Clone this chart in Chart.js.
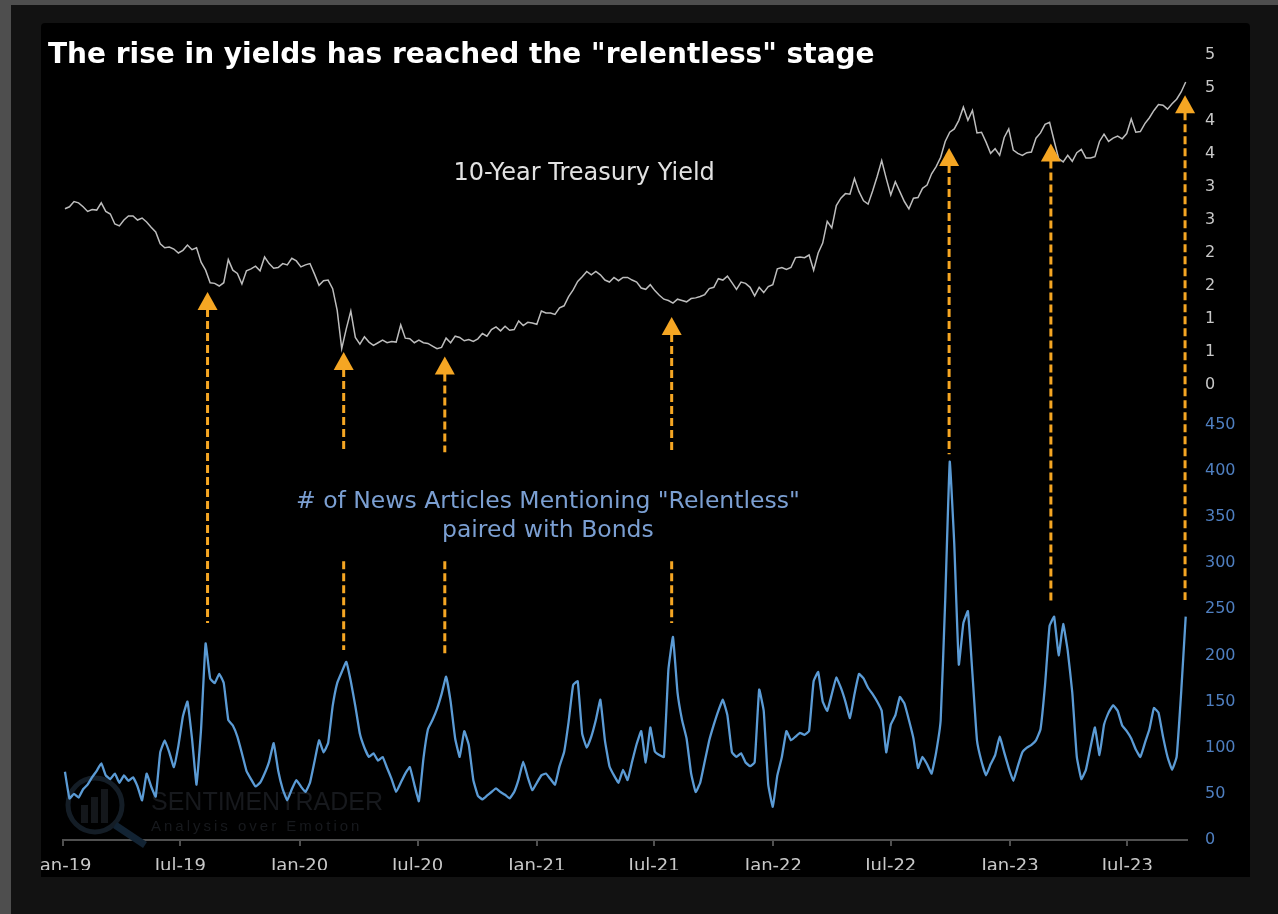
<!DOCTYPE html>
<html>
<head>
<meta charset="utf-8">
<script src="https://cdn.jsdelivr.net/npm/chart.js@4.4.0/dist/chart.umd.min.js"></script>
<style>
  html, body { margin: 0; padding: 0; }
  body { width: 1278px; height: 914px; background: #121212; position: relative; overflow: hidden; }
  #edgeTop { position: absolute; left: 0; top: 0; width: 1278px; height: 5px; background: #4e4e4e; }
  #edgeLeft { position: absolute; left: 0; top: 0; width: 11px; height: 914px; background: #4e4e4e; }
  #panel { position: absolute; left: 41px; top: 23px; width: 1209px; height: 854px; background: #000; overflow: hidden; border-radius: 4px 4px 0 0; }
  #wrap { position: absolute; left: -18px; top: 0; width: 1227px; height: 854px; }
</style>
</head>
<body>
<div id="edgeTop"></div>
<div id="edgeLeft"></div>
<div id="panel"><div id="wrap"><canvas id="grafico"></canvas></div></div>
<script>
// weekly samples (Fridays), first one on 2019-01-04
const FIRST_WEEK = "2019-01-04";

const yield2019 = [2.67, 2.70, 2.78, 2.76, 2.70, 2.63, 2.66, 2.65, 2.76, 2.63, 2.59, 2.44, 2.41,
  2.50, 2.56, 2.56, 2.50, 2.53, 2.47, 2.39, 2.32, 2.14, 2.08, 2.09, 2.06, 2.00, 2.04, 2.12, 2.05,
  2.08, 1.86, 1.74, 1.55, 1.54, 1.50, 1.55, 1.90, 1.74, 1.69, 1.53, 1.73, 1.76, 1.80, 1.73, 1.94,
  1.84, 1.77, 1.78, 1.84, 1.82, 1.92, 1.88];
const yield2020 = [1.79, 1.82, 1.84, 1.68, 1.51, 1.58, 1.59, 1.46, 1.13, 0.55, 0.85, 1.12, 0.72,
  0.62, 0.73, 0.65, 0.60, 0.64, 0.68, 0.64, 0.66, 0.65, 0.91, 0.71, 0.70, 0.64, 0.68, 0.64, 0.63,
  0.59, 0.55, 0.57, 0.71, 0.64, 0.74, 0.72, 0.67, 0.69, 0.66, 0.70, 0.78, 0.74, 0.84, 0.88, 0.82,
  0.89, 0.83, 0.84, 0.97, 0.90, 0.95, 0.94];
const yield2021 = [0.92, 1.12, 1.09, 1.09, 1.07, 1.17, 1.20, 1.34, 1.44, 1.57, 1.64, 1.72, 1.67,
  1.72, 1.67, 1.59, 1.56, 1.63, 1.58, 1.63, 1.63, 1.59, 1.56, 1.47, 1.45, 1.52, 1.43, 1.36, 1.30,
  1.28, 1.24, 1.30, 1.28, 1.26, 1.31, 1.32, 1.34, 1.37, 1.46, 1.48, 1.61, 1.59, 1.65, 1.55, 1.45,
  1.56, 1.54, 1.48, 1.35, 1.48, 1.40, 1.49, 1.52];
const yield2022 = [1.76, 1.78, 1.75, 1.78, 1.93, 1.94, 1.93, 1.97, 1.74, 2.00, 2.15, 2.48, 2.38,
  2.72, 2.83, 2.90, 2.89, 3.13, 2.93, 2.79, 2.74, 2.94, 3.16, 3.40, 3.13, 2.88, 3.08, 2.93, 2.78,
  2.67, 2.83, 2.84, 2.98, 3.03, 3.20, 3.31, 3.45, 3.69, 3.83, 3.88, 4.01, 4.21, 4.01, 4.16, 3.82,
  3.83, 3.68, 3.51, 3.58, 3.48, 3.75, 3.88];
const yield2023 = [3.56, 3.51, 3.48, 3.52, 3.53, 3.74, 3.82, 3.95, 3.98, 3.70, 3.43, 3.38, 3.48,
  3.39, 3.52, 3.57, 3.44, 3.44, 3.46, 3.69, 3.80, 3.69, 3.74, 3.77, 3.73, 3.81, 4.03, 3.83, 3.84,
  3.96, 4.05, 4.16, 4.25, 4.24, 4.18, 4.26, 4.33, 4.44, 4.59];

const news2019 = [74, 45, 50, 46, 55, 60, 68, 75, 83, 70, 66, 72, 62, 70, 64, 68, 58, 43, 72, 58,
  47, 95, 108, 95, 79, 102, 134, 150, 110, 60, 120, 213, 175, 170, 180, 170, 130, 124, 112, 94,
  75, 66, 58, 62, 72, 85, 105, 75, 55, 43, 55, 65];
const news2020 = [58, 52, 62, 85, 108, 95, 105, 145, 170, 182, 193, 172, 145, 115, 100, 90, 94,
  86, 90, 78, 66, 52, 62, 72, 79, 60, 42, 88, 120, 130, 142, 158, 177, 150, 110, 90, 118, 103,
  65, 48, 44, 48, 52, 56, 52, 49, 45, 52, 66, 85, 68, 54];
const news2021 = [62, 70, 72, 66, 60, 80, 95, 128, 168, 172, 115, 100, 112, 130, 152, 108, 80,
  70, 62, 76, 65, 85, 104, 118, 84, 122, 96, 92, 90, 185, 220, 160, 130, 110, 72, 52, 62, 85,
  108, 125, 140, 152, 135, 95, 90, 94, 84, 80, 84, 163, 140, 60, 36];
const news2022 = [70, 90, 118, 108, 112, 116, 114, 118, 172, 182, 150, 140, 158, 176, 165, 150,
  132, 158, 180, 175, 165, 158, 150, 140, 95, 125, 135, 155, 148, 130, 110, 78, 90, 82, 72, 95,
  130, 260, 410, 320, 190, 235, 248, 180, 108, 85, 70, 82, 92, 112, 95, 78];
const news2023 = [64, 80, 95, 100, 103, 108, 120, 168, 232, 242, 200, 234, 205, 160, 90, 66, 76,
  100, 122, 92, 125, 138, 146, 140, 124, 118, 110, 98, 90, 105, 120, 143, 138, 112, 90, 76, 90,
  160, 242];

const tickDates = ["2019-01-01", "2019-07-01", "2020-01-01", "2020-07-01", "2021-01-01",
  "2021-07-01", "2022-01-01", "2022-07-01", "2023-01-01", "2023-07-01"];
const tickLabels = ["Jan-19", "Jul-19", "Jan-20", "Jul-20", "Jan-21", "Jul-21", "Jan-22",
  "Jul-22", "Jan-23", "Jul-23"];
const yieldTicks = [0, 0.5, 1, 1.5, 2, 2.5, 3, 3.5, 4, 4.5, 5];
const newsTicks = [0, 50, 100, 150, 200, 250, 300, 350, 400, 450];

// orange arrows: date, yield at the tip, article count at the foot, broken by the label?
const arrowDates = ["2019-08-12", "2020-03-09", "2020-08-12", "2021-07-28", "2022-09-29",
  "2023-03-05", "2023-09-28"];
const arrowTips = [1.41, 0.50, 0.43, 1.03, 3.59, 3.66, 4.39];
const arrowEnds = [235, 206, 199, 235, 418, 257, 260];
const arrowBroken = [false, true, true, true, false, false, false];

const DAY = 86400000;
const ORIGIN = Date.UTC(2019, 0, 1);
function dayOf(s) {
  const [y, m, d] = s.split("-").map(Number);
  return (Date.UTC(y, m - 1, d) - ORIGIN) / DAY;
}

const yields = [...yield2019, ...yield2020, ...yield2021, ...yield2022, ...yield2023];
const news = [...news2019, ...news2020, ...news2021, ...news2022, ...news2023];
const start = dayOf(FIRST_WEEK);
const yieldPts = yields.map((v, i) => ({ x: start + i * 7, y: v }));
const newsPts = news.map((v, i) => ({ x: start + i * 7, y: v }));

const ORANGE = "#f5a623";
const FONT = "'DejaVu Sans', sans-serif";

const capas = {
  id: "capas",
  beforeDatasetsDraw(chart) {
    const ctx = chart.ctx;
    ctx.save();
    // watermark
    ctx.strokeStyle = "#141d26";
    ctx.lineWidth = 5;
    ctx.beginPath();
    ctx.arc(72, 782, 27, 0, Math.PI * 2);
    ctx.stroke();
    ctx.strokeStyle = "#122333";
    ctx.lineWidth = 7;
    ctx.beginPath();
    ctx.moveTo(92, 802);
    ctx.lineTo(122, 822);
    ctx.stroke();
    ctx.fillStyle = "#14171b";
    ctx.fillRect(58, 782, 7, 18);
    ctx.fillRect(68, 774, 7, 26);
    ctx.fillRect(78, 766, 7, 34);
    ctx.fillStyle = "#17191d";
    ctx.font = "25px 'Liberation Sans', sans-serif";
    ctx.textBaseline = "alphabetic";
    ctx.fillText("SENTIMENTRADER", 128, 787);
    ctx.font = "15px 'Liberation Sans', sans-serif";
    ctx.letterSpacing = "3px";
    ctx.fillText("Analysis over Emotion", 128, 808);
    ctx.restore();
  },
  afterDatasetsDraw(chart) {
    const ctx = chart.ctx;
    const xs = chart.scales.x, ys = chart.scales.y, ns = chart.scales.y2;
    ctx.save();
    arrowDates.forEach((d, i) => {
      const px = xs.getPixelForValue(dayOf(d));
      const tip = ys.getPixelForValue(arrowTips[i]);
      const foot = ns.getPixelForValue(arrowEnds[i]);
      const segs = arrowBroken[i]
        ? [[tip + 17, ns.getPixelForValue(420)], [ns.getPixelForValue(302), foot]]
        : [[tip + 17, foot]];
      ctx.strokeStyle = ORANGE;
      ctx.lineWidth = 3;
      ctx.setLineDash([8, 4]);
      segs.forEach(([a, b]) => {
        ctx.beginPath();
        ctx.moveTo(px, a);
        ctx.lineTo(px, b);
        ctx.stroke();
      });
      ctx.setLineDash([]);
      ctx.fillStyle = ORANGE;
      ctx.beginPath();
      ctx.moveTo(px, tip);
      ctx.lineTo(px + 10, tip + 18);
      ctx.lineTo(px - 10, tip + 18);
      ctx.closePath();
      ctx.fill();
    });

    ctx.textBaseline = "alphabetic";
    ctx.textAlign = "center";
    ctx.fillStyle = "#e2e2e2";
    ctx.font = "24px " + FONT;
    ctx.fillText("10-Year Treasury Yield", xs.getPixelForValue(804), ys.getPixelForValue(3.11));
    ctx.fillStyle = "#7b9fd2";
    ctx.font = "23.5px " + FONT;
    const nx = xs.getPixelForValue(748);
    ctx.fillText("# of News Articles Mentioning \"Relentless\"", nx, ns.getPixelForValue(360));
    ctx.fillText("paired with Bonds", nx, ns.getPixelForValue(328.5));

    ctx.textAlign = "left";
    ctx.fillStyle = "#ffffff";
    ctx.font = "bold 28px " + FONT;
    ctx.fillText("The rise in yields has reached the \"relentless\" stage", 25, 40);
    ctx.restore();
  }
};

Chart.defaults.font.family = FONT;

new Chart(document.getElementById("grafico"), {
  type: "line",
  data: {
    datasets: [
      {
        label: "10-Year Treasury Yield",
        data: yieldPts,
        yAxisID: "y",
        borderColor: "#bdbdbd",
        borderWidth: 1.5,
        pointRadius: 0,
        tension: 0
      },
      {
        label: "# of News Articles Mentioning \"Relentless\" paired with Bonds",
        data: newsPts,
        yAxisID: "y2",
        borderColor: "#5b9bd5",
        borderWidth: 2.3,
        pointRadius: 0,
        tension: 0.1
      }
    ]
  },
  options: {
    responsive: true,
    maintainAspectRatio: false,
    animation: false,
    devicePixelRatio: 1,
    layout: { padding: { left: 40, top: 32, right: 11, bottom: 7 } },
    plugins: { legend: { display: false }, tooltip: { enabled: false }, title: { display: false } },
    scales: {
      x: {
        type: "linear",
        min: 0,
        max: dayOf("2023-10-01"),
        afterBuildTicks: s => { s.ticks = tickDates.map(d => ({ value: dayOf(d) })); },
        afterFit: s => { s.height = 30; },
        ticks: {
          autoSkip: false,
          maxRotation: 0,
          padding: 10,
          color: "#c8c8c8",
          font: { size: 18 },
          callback: (v, i) => tickLabels[i]
        },
        grid: { drawOnChartArea: false, drawTicks: true, tickLength: 6, color: "#505050", lineWidth: 2 },
        border: { color: "#505050", width: 2 }
      },
      y: {
        type: "linear",
        position: "right",
        stack: "right",
        stackWeight: 330,
        min: 0,
        max: 5,
        afterBuildTicks: s => { s.ticks = yieldTicks.map(v => ({ value: v })); },
        afterFit: s => { s.width = 52; },
        ticks: { autoSkip: false, padding: 18, color: "#c8c8c8", font: { size: 16 }, callback: v => Math.round(v) },
        grid: { display: false, drawTicks: false },
        border: { display: false }
      },
      y2: {
        type: "linear",
        position: "right",
        stack: "right",
        stackWeight: 455,
        min: 0,
        max: 493,
        afterBuildTicks: s => { s.ticks = newsTicks.map(v => ({ value: v })); },
        afterFit: s => { s.width = 52; },
        ticks: { autoSkip: false, padding: 18, color: "#4f7fc0", font: { size: 16 } },
        grid: { display: false, drawTicks: false },
        border: { display: false }
      }
    }
  },
  plugins: [capas]
});
</script>
</body>
</html>
